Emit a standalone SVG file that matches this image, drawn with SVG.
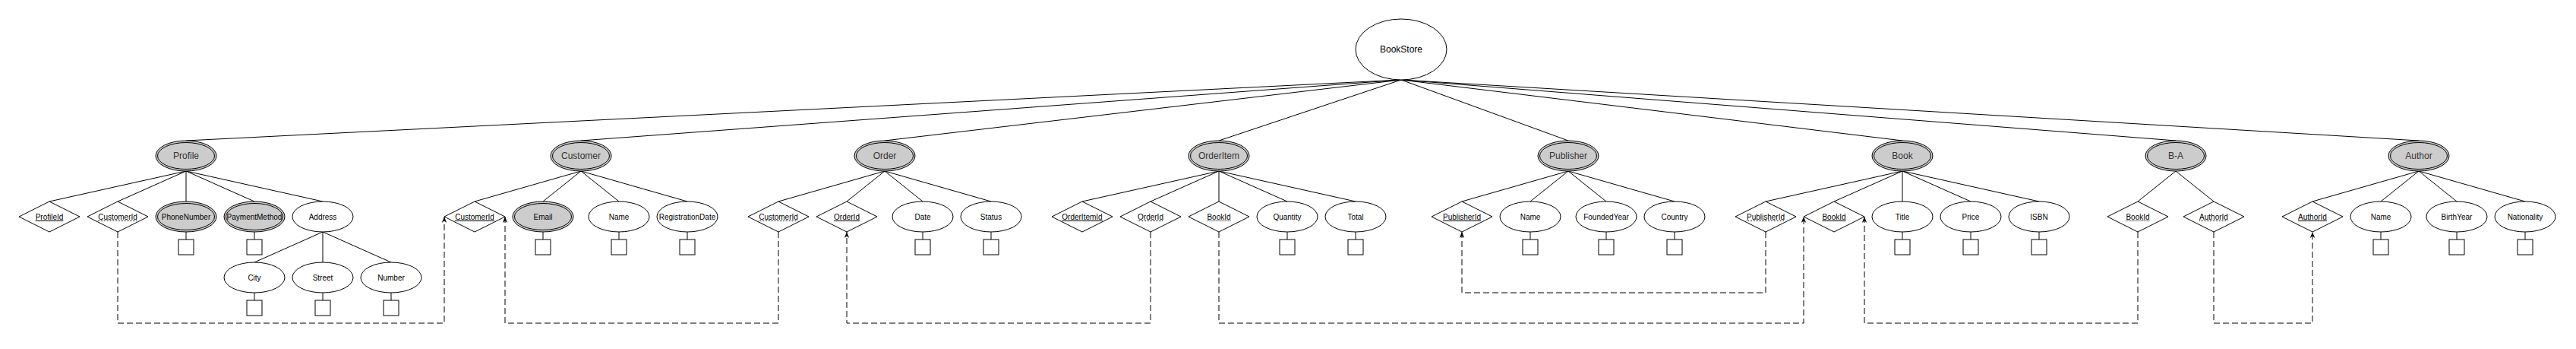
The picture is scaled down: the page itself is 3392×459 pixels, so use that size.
<svg xmlns="http://www.w3.org/2000/svg" width="3392" height="459" viewBox="0 0 3392 459">
<style>
.bg{fill:#fff}
.ln{stroke:#000;stroke-width:1;fill:none}
.dash{stroke:#000;stroke-width:1;fill:none;stroke-dasharray:8 4}
.at{fill:#fff;stroke:#000;stroke-width:1}
.en{fill:#cccccc;stroke:#000;stroke-width:1}
.en2{fill:none;stroke:#000;stroke-width:1}
.sq{fill:#fff;stroke:#000;stroke-width:1}
.t10{font-family:"Liberation Sans",Arial,sans-serif;font-size:10px;text-anchor:middle;fill:#000}
.t12{font-family:"Liberation Sans",Arial,sans-serif;font-size:12px;text-anchor:middle;fill:#333}
.t12b{font-family:"Liberation Sans",Arial,sans-serif;font-size:12px;text-anchor:middle;fill:#000}
.ul{stroke:#000;stroke-width:1}
.dot{stroke:#000;stroke-width:1;stroke-dasharray:1 1}
</style>
<defs>
<marker id="arr" viewBox="0 0 10 10" refX="10" refY="5" markerWidth="8" markerHeight="8" markerUnits="userSpaceOnUse" orient="auto">
<path d="M0,1 L10,5 L0,9 L3,5 Z" fill="#000"/>
</marker>
</defs>
<rect class="bg" x="0" y="0" width="3392" height="459"/>

<g id="connectors">
<path class="ln" d="M1845,105 L245,185 M1845,105 L765,185 M1845,105 L1165,185 M1845,105 L1605,185 M1845,105 L2065,185 M1845,105 L2505,185 M1845,105 L2865,185 M1845,105 L3185,185"/>
<path class="ln" d="M245,225 L65,265 M245,225 L155,265 M245,225 L245,265 M245,225 L335,265 M245,225 L425,265"/>
<path class="ln" d="M425,305 L335,345 M425,305 L425,345 M425,305 L515,345"/>
<path class="ln" d="M765,225 L625,265 M765,225 L715,265 M765,225 L815,265 M765,225 L905,265"/>
<path class="ln" d="M1165,225 L1025,265 M1165,225 L1115,265 M1165,225 L1215,265 M1165,225 L1305,265"/>
<path class="ln" d="M1605,225 L1425,265 M1605,225 L1515,265 M1605,225 L1605,265 M1605,225 L1695,265 M1605,225 L1785,265"/>
<path class="ln" d="M2065,225 L1925,265 M2065,225 L2015,265 M2065,225 L2115,265 M2065,225 L2205,265"/>
<path class="ln" d="M2505,225 L2325,265 M2505,225 L2415,265 M2505,225 L2505,265 M2505,225 L2595,265 M2505,225 L2685,265"/>
<path class="ln" d="M2865,225 L2815,265 M2865,225 L2915,265"/>
<path class="ln" d="M3185,225 L3045,265 M3185,225 L3135,265 M3185,225 L3235,265 M3185,225 L3325,265"/>
<path class="dash" marker-end="url(#arr)" d="M155,305 V425 H585 V285"/>
<path class="dash" marker-end="url(#arr)" d="M1025,305 V425 H665 V285"/>
<path class="dash" marker-end="url(#arr)" d="M1515,305 V425 H1115 V305"/>
<path class="dash" marker-end="url(#arr)" d="M1605,305 V425 H2375 V285"/>
<path class="dash" marker-end="url(#arr)" d="M2325,305 V385 H1925 V305"/>
<path class="dash" marker-end="url(#arr)" d="M2815,305 V425 H2455 V285"/>
<path class="dash" marker-end="url(#arr)" d="M2915,305 V425 H3045 V305"/>
</g>

<g id="bookstore"><ellipse class="at" cx="1845" cy="65" rx="60" ry="40"/><text class="t12b" x="1845" y="69.3">BookStore</text></g>

<g id="profile"><ellipse class="en" cx="245" cy="205" rx="40" ry="20"/><ellipse class="en2" cx="245" cy="205" rx="37.5" ry="17.5"/><text class="t12" x="245" y="209.3">Profile</text></g>
<g id="customer"><ellipse class="en" cx="765" cy="205" rx="40" ry="20"/><ellipse class="en2" cx="765" cy="205" rx="37.5" ry="17.5"/><text class="t12" x="765" y="209.3">Customer</text></g>
<g id="order"><ellipse class="en" cx="1165" cy="205" rx="40" ry="20"/><ellipse class="en2" cx="1165" cy="205" rx="37.5" ry="17.5"/><text class="t12" x="1165" y="209.3">Order</text></g>
<g id="orderitem"><ellipse class="en" cx="1605" cy="205" rx="40" ry="20"/><ellipse class="en2" cx="1605" cy="205" rx="37.5" ry="17.5"/><text class="t12" x="1605" y="209.3">OrderItem</text></g>
<g id="publisher"><ellipse class="en" cx="2065" cy="205" rx="40" ry="20"/><ellipse class="en2" cx="2065" cy="205" rx="37.5" ry="17.5"/><text class="t12" x="2065" y="209.3">Publisher</text></g>
<g id="book"><ellipse class="en" cx="2505" cy="205" rx="40" ry="20"/><ellipse class="en2" cx="2505" cy="205" rx="37.5" ry="17.5"/><text class="t12" x="2505" y="209.3">Book</text></g>
<g id="ba"><ellipse class="en" cx="2865" cy="205" rx="40" ry="20"/><ellipse class="en2" cx="2865" cy="205" rx="37.5" ry="17.5"/><text class="t12" x="2865" y="209.3">B-A</text></g>
<g id="author"><ellipse class="en" cx="3185" cy="205" rx="40" ry="20"/><ellipse class="en2" cx="3185" cy="205" rx="37.5" ry="17.5"/><text class="t12" x="3185" y="209.3">Author</text></g>

<!-- Profile attributes -->
<g id="profile-profileid"><path class="at" d="M25,285 L65,265 L105,285 L65,305 Z"/><text class="t10" x="65" y="288.6">ProfileId</text><line class="ul" x1="46.6" y1="290.5" x2="83.4" y2="290.5"/></g>
<g id="profile-customerid"><path class="at" d="M115,285 L155,265 L195,285 L155,305 Z"/><text class="t10" x="155" y="288.6">CustomerId</text><line class="dot" x1="129.1" y1="290.5" x2="180.9" y2="290.5"/></g>
<g id="profile-phonenumber"><ellipse class="en" cx="245" cy="285" rx="40" ry="20"/><ellipse class="en2" cx="245" cy="285" rx="37.5" ry="17.5"/><text class="t10" x="245" y="288.6">PhoneNumber</text><line class="ln" x1="245" y1="305" x2="245" y2="315"/><rect class="sq" x="235" y="315" width="20" height="20"/></g>
<g id="profile-paymentmethod"><ellipse class="en" cx="335" cy="285" rx="40" ry="20"/><ellipse class="en2" cx="335" cy="285" rx="37.5" ry="17.5"/><text class="t10" x="335" y="288.6">PaymentMethod</text><line class="ln" x1="335" y1="305" x2="335" y2="315"/><rect class="sq" x="325" y="315" width="20" height="20"/></g>
<g id="profile-address"><ellipse class="at" cx="425" cy="285" rx="40" ry="20"/><text class="t10" x="425" y="288.6">Address</text></g>
<g id="address-city"><ellipse class="at" cx="335" cy="365" rx="40" ry="20"/><text class="t10" x="335" y="368.6">City</text><line class="ln" x1="335" y1="385" x2="335" y2="395"/><rect class="sq" x="325" y="395" width="20" height="20"/></g>
<g id="address-street"><ellipse class="at" cx="425" cy="365" rx="40" ry="20"/><text class="t10" x="425" y="368.6">Street</text><line class="ln" x1="425" y1="385" x2="425" y2="395"/><rect class="sq" x="415" y="395" width="20" height="20"/></g>
<g id="address-number"><ellipse class="at" cx="515" cy="365" rx="40" ry="20"/><text class="t10" x="515" y="368.6">Number</text><line class="ln" x1="515" y1="385" x2="515" y2="395"/><rect class="sq" x="505" y="395" width="20" height="20"/></g>

<!-- Customer attributes -->
<g id="customer-customerid"><path class="at" d="M585,285 L625,265 L665,285 L625,305 Z"/><text class="t10" x="625" y="288.6">CustomerId</text><line class="ul" x1="599.1" y1="290.5" x2="650.9" y2="290.5"/></g>
<g id="customer-email"><ellipse class="en" cx="715" cy="285" rx="40" ry="20"/><ellipse class="en2" cx="715" cy="285" rx="37.5" ry="17.5"/><text class="t10" x="715" y="288.6">Email</text><line class="ln" x1="715" y1="305" x2="715" y2="315"/><rect class="sq" x="705" y="315" width="20" height="20"/></g>
<g id="customer-name"><ellipse class="at" cx="815" cy="285" rx="40" ry="20"/><text class="t10" x="815" y="288.6">Name</text><line class="ln" x1="815" y1="305" x2="815" y2="315"/><rect class="sq" x="805" y="315" width="20" height="20"/></g>
<g id="customer-registrationdate"><ellipse class="at" cx="905" cy="285" rx="40" ry="20"/><text class="t10" x="905" y="288.6">RegistrationDate</text><line class="ln" x1="905" y1="305" x2="905" y2="315"/><rect class="sq" x="895" y="315" width="20" height="20"/></g>

<!-- Order attributes -->
<g id="order-customerid"><path class="at" d="M985,285 L1025,265 L1065,285 L1025,305 Z"/><text class="t10" x="1025" y="288.6">CustomerId</text><line class="dot" x1="999.1" y1="290.5" x2="1050.9" y2="290.5"/></g>
<g id="order-orderid"><path class="at" d="M1075,285 L1115,265 L1155,285 L1115,305 Z"/><text class="t10" x="1115" y="288.6">OrderId</text><line class="ul" x1="1098" y1="290.5" x2="1132" y2="290.5"/></g>
<g id="order-date"><ellipse class="at" cx="1215" cy="285" rx="40" ry="20"/><text class="t10" x="1215" y="288.6">Date</text><line class="ln" x1="1215" y1="305" x2="1215" y2="315"/><rect class="sq" x="1205" y="315" width="20" height="20"/></g>
<g id="order-status"><ellipse class="at" cx="1305" cy="285" rx="40" ry="20"/><text class="t10" x="1305" y="288.6">Status</text><line class="ln" x1="1305" y1="305" x2="1305" y2="315"/><rect class="sq" x="1295" y="315" width="20" height="20"/></g>

<!-- OrderItem attributes -->
<g id="orderitem-orderitemid"><path class="at" d="M1385,285 L1425,265 L1465,285 L1425,305 Z"/><text class="t10" x="1425" y="288.6">OrderItemId</text><line class="ul" x1="1398.3" y1="290.5" x2="1451.7" y2="290.5"/></g>
<g id="orderitem-orderid"><path class="at" d="M1475,285 L1515,265 L1555,285 L1515,305 Z"/><text class="t10" x="1515" y="288.6">OrderId</text><line class="dot" x1="1498" y1="290.5" x2="1532" y2="290.5"/></g>
<g id="orderitem-bookid"><path class="at" d="M1565,285 L1605,265 L1645,285 L1605,305 Z"/><text class="t10" x="1605" y="288.6">BookId</text><line class="dot" x1="1589.4" y1="290.5" x2="1620.6" y2="290.5"/></g>
<g id="orderitem-quantity"><ellipse class="at" cx="1695" cy="285" rx="40" ry="20"/><text class="t10" x="1695" y="288.6">Quantity</text><line class="ln" x1="1695" y1="305" x2="1695" y2="315"/><rect class="sq" x="1685" y="315" width="20" height="20"/></g>
<g id="orderitem-total"><ellipse class="at" cx="1785" cy="285" rx="40" ry="20"/><text class="t10" x="1785" y="288.6">Total</text><line class="ln" x1="1785" y1="305" x2="1785" y2="315"/><rect class="sq" x="1775" y="315" width="20" height="20"/></g>

<!-- Publisher attributes -->
<g id="publisher-publisherid"><path class="at" d="M1885,285 L1925,265 L1965,285 L1925,305 Z"/><text class="t10" x="1925" y="288.6">PublisherId</text><line class="ul" x1="1900" y1="290.5" x2="1950" y2="290.5"/></g>
<g id="publisher-name"><ellipse class="at" cx="2015" cy="285" rx="40" ry="20"/><text class="t10" x="2015" y="288.6">Name</text><line class="ln" x1="2015" y1="305" x2="2015" y2="315"/><rect class="sq" x="2005" y="315" width="20" height="20"/></g>
<g id="publisher-foundedyear"><ellipse class="at" cx="2115" cy="285" rx="40" ry="20"/><text class="t10" x="2115" y="288.6">FoundedYear</text><line class="ln" x1="2115" y1="305" x2="2115" y2="315"/><rect class="sq" x="2105" y="315" width="20" height="20"/></g>
<g id="publisher-country"><ellipse class="at" cx="2205" cy="285" rx="40" ry="20"/><text class="t10" x="2205" y="288.6">Country</text><line class="ln" x1="2205" y1="305" x2="2205" y2="315"/><rect class="sq" x="2195" y="315" width="20" height="20"/></g>

<!-- Book attributes -->
<g id="book-publisherid"><path class="at" d="M2285,285 L2325,265 L2365,285 L2325,305 Z"/><text class="t10" x="2325" y="288.6">PublisherId</text><line class="dot" x1="2300" y1="290.5" x2="2350" y2="290.5"/></g>
<g id="book-bookid"><path class="at" d="M2375,285 L2415,265 L2455,285 L2415,305 Z"/><text class="t10" x="2415" y="288.6">BookId</text><line class="ul" x1="2399.4" y1="290.5" x2="2430.6" y2="290.5"/></g>
<g id="book-title"><ellipse class="at" cx="2505" cy="285" rx="40" ry="20"/><text class="t10" x="2505" y="288.6">Title</text><line class="ln" x1="2505" y1="305" x2="2505" y2="315"/><rect class="sq" x="2495" y="315" width="20" height="20"/></g>
<g id="book-price"><ellipse class="at" cx="2595" cy="285" rx="40" ry="20"/><text class="t10" x="2595" y="288.6">Price</text><line class="ln" x1="2595" y1="305" x2="2595" y2="315"/><rect class="sq" x="2585" y="315" width="20" height="20"/></g>
<g id="book-isbn"><ellipse class="at" cx="2685" cy="285" rx="40" ry="20"/><text class="t10" x="2685" y="288.6">ISBN</text><line class="ln" x1="2685" y1="305" x2="2685" y2="315"/><rect class="sq" x="2675" y="315" width="20" height="20"/></g>

<!-- B-A attributes -->
<g id="ba-bookid"><path class="at" d="M2775,285 L2815,265 L2855,285 L2815,305 Z"/><text class="t10" x="2815" y="288.6">BookId</text><line class="dot" x1="2799.4" y1="290.5" x2="2830.6" y2="290.5"/></g>
<g id="ba-authorid"><path class="at" d="M2875,285 L2915,265 L2955,285 L2915,305 Z"/><text class="t10" x="2915" y="288.6">AuthorId</text><line class="dot" x1="2896.1" y1="290.5" x2="2933.9" y2="290.5"/></g>

<!-- Author attributes -->
<g id="author-authorid"><path class="at" d="M3005,285 L3045,265 L3085,285 L3045,305 Z"/><text class="t10" x="3045" y="288.6">AuthorId</text><line class="ul" x1="3026.1" y1="290.5" x2="3063.9" y2="290.5"/></g>
<g id="author-name"><ellipse class="at" cx="3135" cy="285" rx="40" ry="20"/><text class="t10" x="3135" y="288.6">Name</text><line class="ln" x1="3135" y1="305" x2="3135" y2="315"/><rect class="sq" x="3125" y="315" width="20" height="20"/></g>
<g id="author-birthyear"><ellipse class="at" cx="3235" cy="285" rx="40" ry="20"/><text class="t10" x="3235" y="288.6">BirthYear</text><line class="ln" x1="3235" y1="305" x2="3235" y2="315"/><rect class="sq" x="3225" y="315" width="20" height="20"/></g>
<g id="author-nationality"><ellipse class="at" cx="3325" cy="285" rx="40" ry="20"/><text class="t10" x="3325" y="288.6">Nationality</text><line class="ln" x1="3325" y1="305" x2="3325" y2="315"/><rect class="sq" x="3315" y="315" width="20" height="20"/></g>
</svg>
